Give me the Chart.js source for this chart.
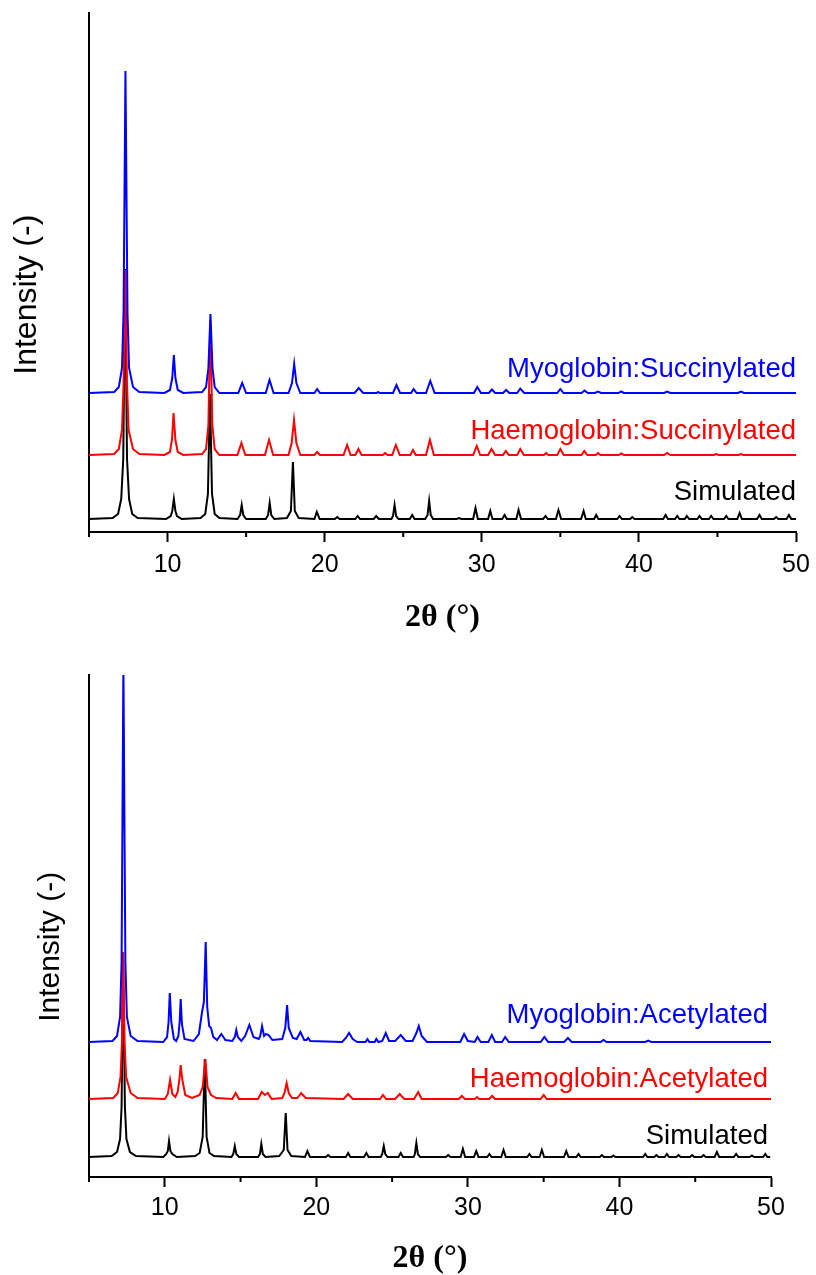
<!DOCTYPE html>
<html>
<head>
<meta charset="utf-8">
<script src="https://cdn.jsdelivr.net/npm/chart.js@4.4.1/dist/chart.umd.min.js"></script>
<style>
body{margin:0;background:#fff;}
canvas{display:block;}
</style>
</head>
<body>
<canvas id="chartSucc" width="816" height="640"></canvas>
<canvas id="chartAcet" width="816" height="635"></canvas>
<script>
// ===== data: [2theta, intensity above own baseline] =====
// --- succinylated panel ---
const mbSucc = [[5,0],[6.6,1],[6.9,6],[7.1,25],[7.2,80],[7.32,322],[7.45,80],[7.55,25],[7.8,6],[8.2,1],
[9.8,0],[10.15,3],[10.3,15],[10.4,38],[10.5,15],[10.65,3],[11.0,0],
[12.2,1],[12.45,6],[12.6,25],[12.73,79],[12.86,25],[13.0,6],[13.3,0],
[14.5,0],[14.75,10],[15.0,0],[16.25,0],[16.49,13],[16.75,0],
[17.7,0],[17.92,10],[18.06,29],[18.2,10],[18.45,0],[19.35,0],[19.52,4],[19.7,0],
[21.9,0],[22.17,5],[22.45,0],[23.3,0],[23.4,1],[23.5,0],[24.35,0],[24.57,8],[24.8,0],
[25.5,0],[25.66,4],[25.85,0],[26.45,0],[26.72,12],[27.0,0],
[29.5,0],[29.71,6],[29.95,0],[30.45,0],[30.64,3.5],[30.85,0],[31.35,0],[31.55,3],[31.75,0],
[32.25,0],[32.45,4.5],[32.7,0],[34.8,0],[35.0,4],[35.2,0],[36.35,0],[36.54,2.5],[36.75,0],
[37.2,0],[37.39,1.5],[37.6,0],[38.7,0],[38.87,1.5],[39.05,0],[41.6,0],[41.8,1.5],[42.0,0],
[46.3,0],[46.5,1.5],[46.7,0],[50,0]]

const hbSucc = [[5,0],[6.6,1],[6.9,6],[7.1,25],[7.2,70],[7.3,185],[7.42,70],[7.52,25],[7.8,6],[8.2,1],
[9.8,0],[10.15,3],[10.28,15],[10.38,42],[10.5,15],[10.65,3],[11.0,0],
[12.2,1],[12.45,6],[12.6,30],[12.72,135],[12.85,30],[13.0,6],[13.3,0],
[14.45,0],[14.7,12],[14.95,0],[16.2,0],[16.46,15],[16.72,0],
[17.7,0],[17.9,12],[18.05,35],[18.2,12],[18.45,0],[19.35,0],[19.52,3],[19.7,0],
[21.2,0],[21.43,10],[21.65,0],[21.95,0],[22.15,6],[22.35,0],[23.7,0],[23.85,2],[24.0,0],
[24.3,0],[24.53,10],[24.78,0],[25.45,0],[25.62,5],[25.8,0],[26.45,0],[26.7,15],[26.95,0],
[29.45,0],[29.68,9],[29.9,0],[30.4,0],[30.62,6],[30.85,0],[31.35,0],[31.53,4],[31.72,0],
[32.25,0],[32.45,6],[32.68,0],[33.95,0],[34.1,2],[34.25,0],[34.8,0],[35.0,6],[35.22,0],
[36.35,0],[36.52,4],[36.72,0],[37.25,0],[37.4,2],[37.55,0],[38.72,0],[38.88,1.5],[39.05,0],
[41.6,0],[41.8,2],[42.0,0],[44.75,0],[44.92,1],[45.1,0],[46.35,0],[46.5,1],[46.65,0],[50,0]]

const simSucc = [[5,0],[6.5,1],[6.85,5],[7.05,20],[7.18,60],[7.3,250],[7.42,60],[7.55,20],[7.75,5],[8.1,1],
[9.9,0],[10.2,3],[10.3,8],[10.4,20],[10.5,8],[10.6,3],[10.9,0],
[12.1,1],[12.4,5],[12.57,25],[12.7,125],[12.83,25],[13.0,5],[13.3,1],
[14.45,0],[14.62,4],[14.72,14],[14.82,4],[15.0,0],[16.25,0],[16.4,4],[16.5,16],[16.6,4],[16.8,0],
[17.6,1],[17.85,8],[17.98,57],[18.1,8],[18.35,1],[19.35,0],[19.5,7],[19.68,0],
[20.65,0],[20.8,2],[20.95,0],[21.95,0],[22.1,3],[22.25,0],[23.12,0],[23.28,3],[23.45,0],
[24.25,0],[24.35,3],[24.45,14],[24.55,3],[24.7,0],[25.42,0],[25.57,4],[25.72,0],
[26.4,0],[26.55,4],[26.65,18],[26.75,4],[26.9,0],[28.4,0],[28.55,1],[28.7,0],
[29.45,0],[29.6,11],[29.75,0],[30.4,0],[30.54,8],[30.68,0],[31.3,0],[31.45,4],[31.6,0],
[32.2,0],[32.34,9],[32.5,0],[33.9,0],[34.06,3],[34.2,0],[34.72,0],[34.88,9],[35.05,0],
[36.32,0],[36.48,8],[36.62,0],[37.15,0],[37.28,4],[37.42,0],[38.62,0],[38.77,3],[38.92,0],
[39.45,0],[39.58,2],[39.72,0],[41.55,0],[41.7,4],[41.85,0],[42.3,0],[42.44,3],[42.58,0],
[42.92,0],[43.05,3],[43.2,0],[43.72,0],[43.86,3],[44.0,0],[44.46,0],[44.6,3],[44.75,0],
[45.42,0],[45.56,3],[45.7,0],[46.26,0],[46.41,6],[46.56,0],[47.52,0],[47.68,4],[47.82,0],
[48.6,0],[48.74,2],[48.88,0],[49.4,0],[49.55,4],[49.7,0],[50,0]]

// --- acetylated panel ---
const mbAcet = [[5,0],[6.55,1],[6.85,6],[7.05,25],[7.15,80],[7.27,380],[7.4,80],[7.5,25],[7.75,6],[8.2,1],
[9.9,0],[10.15,5],[10.25,20],[10.33,49],[10.43,20],[10.6,3],[10.75,1],
[10.9,6],[10.98,20],[11.05,43],[11.13,18],[11.3,3],
[11.9,1],[12.25,8],[12.45,29],[12.58,40],[12.7,100],[12.8,35],[12.93,16],[13.05,14],[13.2,5],[13.45,2],
[13.73,8],[14.0,2],[14.45,1],[14.62,5],[14.72,12],[14.82,5],[15.05,1],
[15.3,6],[15.58,17],[15.85,5],[16.2,3],[16.3,6],[16.42,16],[16.55,6],[16.68,8],[16.85,7],[17.1,2],
[17.75,3],[17.95,14],[18.07,37],[18.18,14],[18.45,4],[18.7,3],[18.95,10],[19.2,2],
[19.35,2],[19.46,4],[19.6,1],[21.7,0],[21.95,4],[22.16,9],[22.4,3],[22.7,0],
[23.25,0],[23.37,3],[23.5,0],[23.85,0],[23.96,3],[24.1,0],[24.35,1],[24.58,9],[24.8,1],
[25.2,1],[25.57,7],[25.9,1],[26.35,1],[26.6,9],[26.76,16],[26.95,6],[27.3,0],
[29.5,0],[29.75,8],[30.0,1],[30.45,0],[30.63,5],[30.85,0],[31.35,0],[31.58,7],[31.8,0],
[32.25,0],[32.46,5],[32.7,0],[34.8,0],[35.05,5],[35.3,0],[36.35,0],[36.6,4],[36.85,0],
[38.75,0],[38.95,2],[39.15,0],[41.7,0],[41.9,1.5],[42.1,0],[50,0]]

const hbAcet = [[5,0],[6.6,1],[6.9,6],[7.08,22],[7.17,55],[7.25,147],[7.35,55],[7.45,22],[7.75,6],[8.2,1],
[10.0,0],[10.2,5],[10.35,19],[10.5,5],[10.7,2],
[10.85,7],[10.97,20],[11.05,34],[11.15,20],[11.35,4],[11.8,1],
[12.3,4],[12.5,12],[12.68,40],[12.82,12],[13.05,4],[13.4,1],
[14.45,0],[14.68,6],[14.9,0],[16.15,0],[16.4,7],[16.6,4],[16.8,6],[17.05,0],
[17.75,1],[17.9,6],[18.04,16],[18.18,6],[18.4,1],[18.75,1],[19.0,6],[19.3,1],
[21.8,0],[22.1,5],[22.4,0],[24.2,0],[24.4,4],[24.6,0],[25.2,0],[25.5,5],[25.8,0],
[26.45,0],[26.72,7],[26.95,0],[29.4,0],[29.6,3],[29.8,0],[30.45,0],[30.6,2],[30.75,0],
[31.4,0],[31.6,3],[31.8,0],[34.8,0],[35.0,4],[35.2,0],[50,0]]

const simAcet = [[5,0],[6.5,1],[6.85,5],[7.05,18],[7.15,50],[7.25,197],[7.37,50],[7.47,18],[7.7,5],[8.1,1],
[9.9,0],[10.1,3],[10.2,6],[10.28,16],[10.37,6],[10.5,3],[10.8,0],
[12.0,1],[12.3,4],[12.5,20],[12.64,98],[12.76,20],[12.95,4],[13.25,1],
[14.4,0],[14.52,3],[14.62,11],[14.72,3],[14.9,0],[16.15,0],[16.28,3],[16.37,13],[16.47,3],[16.65,0],
[17.55,1],[17.85,7],[17.98,44],[18.1,7],[18.35,1],[19.25,0],[19.41,6],[19.58,0],
[20.63,0],[20.78,2],[20.93,0],[21.95,0],[22.1,4],[22.25,0],[23.15,0],[23.3,4],[23.45,0],
[24.25,0],[24.35,3],[24.45,11],[24.55,3],[24.7,0],[25.42,0],[25.57,4],[25.72,0],
[26.42,0],[26.5,3],[26.6,14],[26.7,3],[26.85,0],[28.55,0],[28.7,2],[28.85,0],
[29.52,0],[29.67,8],[29.82,0],[30.4,0],[30.55,6],[30.7,0],[31.28,0],[31.42,3],[31.56,0],
[32.2,0],[32.35,7],[32.5,0],[33.92,0],[34.06,3],[34.2,0],[34.73,0],[34.88,7],[35.03,0],
[36.34,0],[36.49,6],[36.64,0],[37.16,0],[37.3,3],[37.44,0],[38.7,0],[38.84,2],[38.98,0],
[39.47,0],[39.6,1.5],[39.73,0],[41.56,0],[41.7,3],[41.84,0],[42.3,0],[42.44,2],[42.58,0],
[42.99,0],[43.13,3],[43.27,0],[43.76,0],[43.9,2],[44.04,0],[44.66,0],[44.8,2],[44.94,0],
[45.41,0],[45.55,2],[45.69,0],[46.28,0],[46.43,5],[46.58,0],[47.55,0],[47.7,3],[47.85,0],
[48.6,0],[48.74,1.5],[48.88,0],[49.48,0],[49.62,3],[49.76,0],[49.95,0]]

// stacking offsets (a.u.) for myoglobin / haemoglobin / simulated
const succOffsets = [139, 77, 13]
const acetOffsets = [135, 78, 20]

const succNames = ["Myoglobin:Succinylated", "Haemoglobin:Succinylated", "Simulated"]
const acetNames = ["Myoglobin:Acetylated", "Haemoglobin:Acetylated", "Simulated"]

const xTicksMajor = [10, 20, 30, 40, 50]
const xTicksMinor = [5, 15, 25, 35, 45]

const colors = ["#0000ff", "#ff0000", "#000000"]

// ===== plugins =====
const minorTicks = {
id: "minorTicks",
afterDraw(chart){
let ctx = chart.ctx
let xs = chart.scales.x
ctx.save()
ctx.strokeStyle = "#000"
ctx.lineWidth = 2
xTicksMinor.forEach(v=>{
let px = xs.getPixelForValue(v)
ctx.beginPath()
ctx.moveTo(px, xs.top)
ctx.lineTo(px, xs.top + 5)
ctx.stroke()
})
ctx.restore()
}
}

const seriesLabels = {
id: "seriesLabels",
afterDatasetsDraw(chart, args, opts){
let ctx = chart.ctx
ctx.save()
ctx.font = opts.font
ctx.textAlign = "right"
ctx.textBaseline = "alphabetic"
opts.items.forEach(it=>{
ctx.fillStyle = it.color
ctx.fillText(it.text, chart.scales.x.getPixelForValue(it.x), chart.scales.y.getPixelForValue(it.y))
})
ctx.restore()
}
}

function buildDatasets(series, offsets){
return series.map((pts,i)=>({
data: pts.map(p=>({x:p[0], y:p[1] + offsets[i]})),
borderColor: colors[i],
borderWidth: 2,
pointRadius: 0,
tension: 0,
fill: false
}))
}

// trailing no-break spaces push the rotated title down a little, as in the original
const NB = "\u00a0\u00a0\u00a0\u00a0\u00a0"

function makeChart(id, series, offsets, names, cfg){
let ctx = document.getElementById(id).getContext("2d")
new Chart(ctx, {
type: "line",
data: { datasets: buildDatasets(series, offsets) },
options: {
responsive: false,
animation: false,
devicePixelRatio: 1,
layout: { padding: { top: cfg.padTop, right: cfg.padRight, bottom: 0, left: 0 } },
plugins: {
legend: { display: false },
tooltip: { enabled: false },
seriesLabels: {
font: "27.5px 'Liberation Sans', Arial, sans-serif",
items: names.map((t,i)=>({ text: t, color: colors[i], x: cfg.labelX, y: cfg.labelY[i] }))
}
},
scales: {
x: {
type: "linear",
min: 5, max: 50,
afterBuildTicks(s){ s.ticks = xTicksMajor.map(v=>({value:v})) },
afterFit(s){ s.height = cfg.xHeight; s.paddingRight = 0; s.paddingLeft = 0 },
ticks: { color: "#000", padding: cfg.tickPad, maxRotation: 0, autoSkip: false,
font: { family: "'Liberation Sans', Arial, sans-serif", size: 25 } },
grid: { display: true, drawOnChartArea: false, drawTicks: true, tickLength: 10, tickWidth: 2, tickColor: "#000" },
border: { display: true, color: "#000", width: 2 },
title: { display: true, text: "2θ (°)", color: "#000", padding: { top: 0, bottom: cfg.titlePad },
font: { family: "'Liberation Serif', 'Times New Roman', serif", size: 32, weight: "bold", lineHeight: 1.0 } }
},
y: {
min: 0, max: cfg.yMax,
afterFit(s){ s.width = 89 },
ticks: { display: false },
grid: { display: false },
border: { display: true, color: "#000", width: 2 },
title: { display: true, text: "Intensity (-)" + NB, color: "#000", padding: { top: cfg.yTitlePad, bottom: 0 },
font: { family: "'Liberation Sans', Arial, sans-serif", size: cfg.yTitleSize } }
}
}
},
plugins: [minorTicks, seriesLabels]
})
}

makeChart("chartSucc", [mbSucc, hbSucc, simSucc], succOffsets, succNames, {
padTop: 13, padRight: 20, xHeight: 108, titlePad: 6, tickPad: 8, yMax: 519,
yTitlePad: 8, yTitleSize: 32, labelX: 50, labelY: [155, 93, 32]
})

makeChart("chartAcet", [mbAcet, hbAcet, simAcet], acetOffsets, acetNames, {
padTop: 35, padRight: 45, xHeight: 98, titlePad: 0, tickPad: 6, yMax: 502,
yTitlePad: 33, yTitleSize: 30, labelX: 49.8, labelY: [154, 90, 33]
})
</script>
</body>
</html>
